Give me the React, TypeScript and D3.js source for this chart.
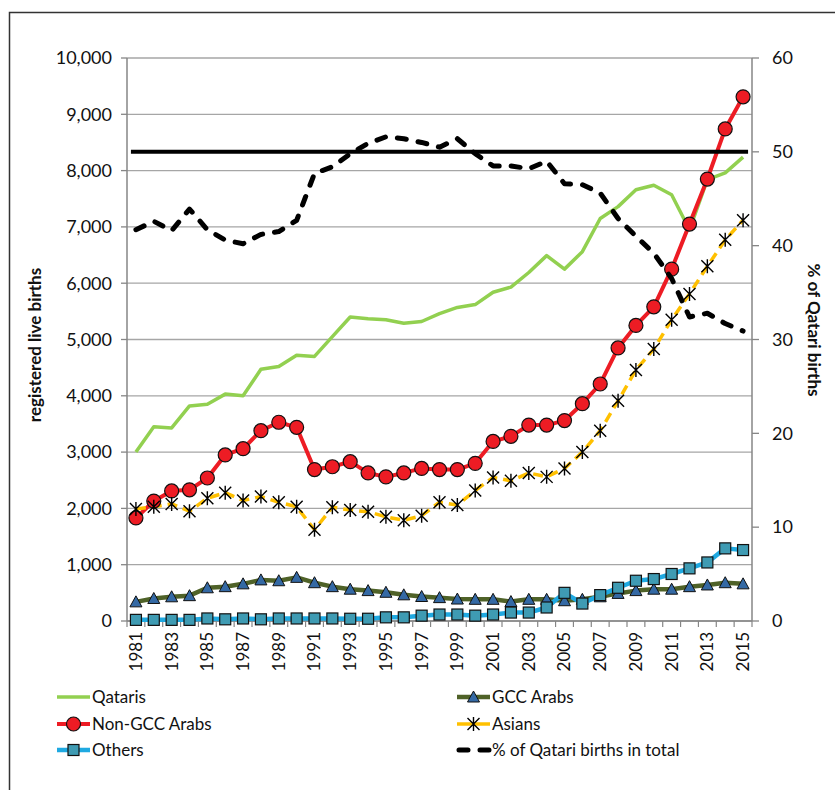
import React from "react";
import * as d3 from "d3";

// categories
const years = d3.range(1981, 2016);

// registered live births by group
const qataris = [3000, 3450, 3430, 3820, 3850, 4030, 4000, 4470, 4520, 4720, 4700, 5050, 5400, 5370, 5350, 5290, 5320, 5460, 5570, 5620, 5840, 5930, 6190, 6490, 6250, 6560, 7150, 7360, 7660, 7740, 7570, 6950, 7840, 7960, 8240];
const gccArabs = [340, 400, 430, 450, 590, 610, 660, 730, 715, 775, 680, 610, 565, 540, 510, 465, 435, 415, 390, 385, 385, 345, 385, 385, 360, 385, 430, 490, 540, 565, 565, 610, 640, 680, 660];
const nonGccArabs = [1830, 2130, 2310, 2330, 2540, 2950, 3060, 3380, 3530, 3440, 2690, 2740, 2830, 2630, 2560, 2630, 2710, 2690, 2690, 2800, 3190, 3280, 3480, 3480, 3560, 3860, 4210, 4850, 5250, 5580, 6250, 7050, 7850, 8740, 9310];
const asians = [1990, 2030, 2080, 1950, 2180, 2280, 2140, 2210, 2110, 2030, 1620, 2020, 1970, 1940, 1850, 1790, 1870, 2110, 2060, 2320, 2550, 2490, 2630, 2560, 2710, 3000, 3380, 3910, 4460, 4830, 5350, 5810, 6300, 6770, 7120];
const others = [20, 20, 20, 20, 45, 30, 45, 30, 45, 45, 45, 45, 40, 40, 65, 65, 95, 115, 115, 95, 115, 150, 150, 240, 500, 310, 460, 590, 715, 745, 835, 935, 1040, 1290, 1260];

// % of Qatari births in total (right axis)
const pctQatari = [41.7, 42.6, 41.6, 43.9, 41.7, 40.6, 40.2, 41.2, 41.5, 42.7, 47.7, 48.4, 49.8, 50.9, 51.6, 51.4, 51.0, 50.5, 51.4, 49.8, 48.5, 48.5, 48.2, 49.0, 46.6, 46.5, 45.6, 42.9, 41.0, 39.2, 36.5, 32.4, 32.8, 31.7, 30.9];
const refPct = 50;

const width = 835;
const height = 790;
const plot = { left: 127, right: 752, top: 58, bottom: 621 };
const font = "Lato, 'Open Sans', sans-serif";

const x = d3.scaleBand<number>().domain(years).range([plot.left, plot.right]);
const cx = (yr: number) => (x(yr) as number) + x.bandwidth() / 2;
const yL = d3.scaleLinear().domain([0, 10000]).range([plot.bottom, plot.top]);
const yR = d3.scaleLinear().domain([0, 60]).range([plot.bottom, plot.top]);

const lineL = d3.line<number>().x((d, i) => cx(years[i])).y(d => yL(d));
const lineR = d3.line<number>().x((d, i) => cx(years[i])).y(d => yR(d));

const triangle = "M0,-6L6,5L-6,5Z";
const star = "M-6,-6L6,6M-6,6L6,-6M0,-7L0,7";

const Marker = ({ type, tx, ty }: { type: string; tx: number; ty: number }) => {
  if (type === "circle")
    return <circle cx={tx} cy={ty} r={7} fill="#ED1C24" stroke="#111" strokeWidth={1.2} />;
  if (type === "triangle")
    return <path d={triangle} transform={`translate(${tx},${ty})`} fill="#3469A4" stroke="#111" strokeWidth={1} />;
  if (type === "square")
    return <rect x={tx - 5.5} y={ty - 5.5} width={11} height={11} fill="#3F9BB3" stroke="#111" strokeWidth={1.2} />;
  if (type === "star")
    return <path d={star} transform={`translate(${tx},${ty})`} fill="none" stroke="#000" strokeWidth={1.4} />;
  return null;
};

const series = [
  { name: "Qataris", data: qataris, color: "#92D050", w: 3.5, dash: "", marker: "" },
  { name: "GCC Arabs", data: gccArabs, color: "#4F6228", w: 4.5, dash: "", marker: "triangle" },
  { name: "Non-GCC Arabs", data: nonGccArabs, color: "#ED1C24", w: 4, dash: "", marker: "circle" },
  { name: "Asians", data: asians, color: "#FFC000", w: 3.5, dash: "10 6", marker: "star" },
  { name: "Others", data: others, color: "#1FA9E1", w: 4.5, dash: "", marker: "square" },
];

const legendItems = [
  { name: "Qataris", col: 0, row: 0 },
  { name: "GCC Arabs", col: 1, row: 0 },
  { name: "Non-GCC Arabs", col: 0, row: 1 },
  { name: "Asians", col: 1, row: 1 },
  { name: "Others", col: 0, row: 2 },
  { name: "% of Qatari births in total", col: 1, row: 2 },
];

export default function App() {
  const leftTicks = yL.ticks(10);
  const rightTicks = yR.ticks(6);
  const fmt = d3.format(",");
  const legX = [57, 457];
  const legY = [697, 724, 750];

  return (
    <svg width={width} height={height} style={{ position: "absolute", left: 0, top: 0, background: "#fff" }} fontFamily={font}>
      {/* frame */}
      <path d={`M9.5,${height}V12.5H${width}`} fill="none" stroke="#333" strokeWidth={1.5} />

      {/* gridlines */}
      {leftTicks.map(t => (
        <line key={t} x1={plot.left} x2={plot.right} y1={yL(t)} y2={yL(t)} stroke="#A6A6A6" strokeWidth={1.3} />
      ))}

      {/* left axis */}
      <line x1={plot.left} x2={plot.left} y1={plot.top} y2={plot.bottom} stroke="#868686" strokeWidth={1.5} />
      {leftTicks.map(t => (
        <g key={t}>
          <line x1={plot.left - 6} x2={plot.left} y1={yL(t)} y2={yL(t)} stroke="#868686" strokeWidth={1.3} />
          <text x={112} y={yL(t)} dy="0.35em" textAnchor="end" fontSize={18} fill="#111">{fmt(t)}</text>
        </g>
      ))}

      {/* right axis */}
      <line x1={plot.right} x2={plot.right} y1={plot.top} y2={plot.bottom} stroke="#868686" strokeWidth={1.5} />
      {rightTicks.map(t => (
        <g key={t}>
          <line x1={plot.right} x2={plot.right + 7} y1={yR(t)} y2={yR(t)} stroke="#868686" strokeWidth={1.3} />
          <text x={772} y={yR(t)} dy="0.35em" textAnchor="start" fontSize={18} fill="#111">{t}</text>
        </g>
      ))}

      {/* bottom axis */}
      <line x1={plot.left} x2={plot.right} y1={plot.bottom} y2={plot.bottom} stroke="#868686" strokeWidth={1.5} />
      {years.map(yr => (
        <line key={yr} x1={x(yr)} x2={x(yr)} y1={plot.bottom} y2={plot.bottom + 6} stroke="#868686" strokeWidth={1.2} />
      ))}
      <line x1={plot.right} x2={plot.right} y1={plot.bottom} y2={plot.bottom + 6} stroke="#868686" strokeWidth={1.2} />
      {years.filter((yr, i) => i % 2 === 0).map(yr => (
        <text key={yr} transform={`translate(${cx(yr)},632) rotate(-90)`} dy="0.35em" textAnchor="end" fontSize={17} fill="#111">{yr}</text>
      ))}

      {/* axis titles */}
      <text transform="translate(35,345) rotate(-90)" dy="0.35em" textAnchor="middle" fontSize={17} fontWeight="bold" fill="#111">registered live births</text>
      <text transform="translate(814,330) rotate(90)" dy="0.35em" textAnchor="middle" fontSize={17} fontWeight="bold" fill="#111">% of Qatari births</text>

      {/* series lines */}
      {series.map(s => (
        <path key={s.name} d={lineL(s.data) as string} fill="none" stroke={s.color} strokeWidth={s.w} strokeDasharray={s.dash || undefined} strokeLinejoin="round" />
      ))}
      {/* markers per series in draw order */}
      {series.map(s => (
        <g key={s.name + "-m"}>
          {s.data.map((d, i) => <Marker key={i} type={s.marker} tx={cx(years[i])} ty={yL(d)} />)}
        </g>
      ))}

      {/* 50% reference line and share of Qatari births */}
      <line x1={cx(years[0]) - 5} x2={cx(years[years.length - 1]) + 5} y1={yR(refPct)} y2={yR(refPct)} stroke="#000" strokeWidth={4} />
      <path d={lineR(pctQatari) as string} fill="none" stroke="#000" strokeWidth={5} strokeDasharray="9 12" strokeLinecap="round" strokeLinejoin="round" />

      {/* legend */}
      {legendItems.map(item => {
        const lx = legX[item.col];
        const ly = legY[item.row];
        const s = series.find(d => d.name === item.name);
        return (
          <g key={item.name}>
            {s ? (
              <>
                <line x1={lx} x2={lx + 33} y1={ly} y2={ly} stroke={s.color} strokeWidth={s.w} />
                <Marker type={s.marker} tx={lx + 16.5} ty={ly} />
              </>
            ) : (
              <line x1={lx + 2} x2={lx + 33} y1={ly} y2={ly} stroke="#000" strokeWidth={5} strokeDasharray="9 12" strokeLinecap="round" />
            )}
            <text x={lx + 35} y={ly} dy="0.35em" fontSize={17} fill="#111">{item.name}</text>
          </g>
        );
      })}
    </svg>
  );
}
